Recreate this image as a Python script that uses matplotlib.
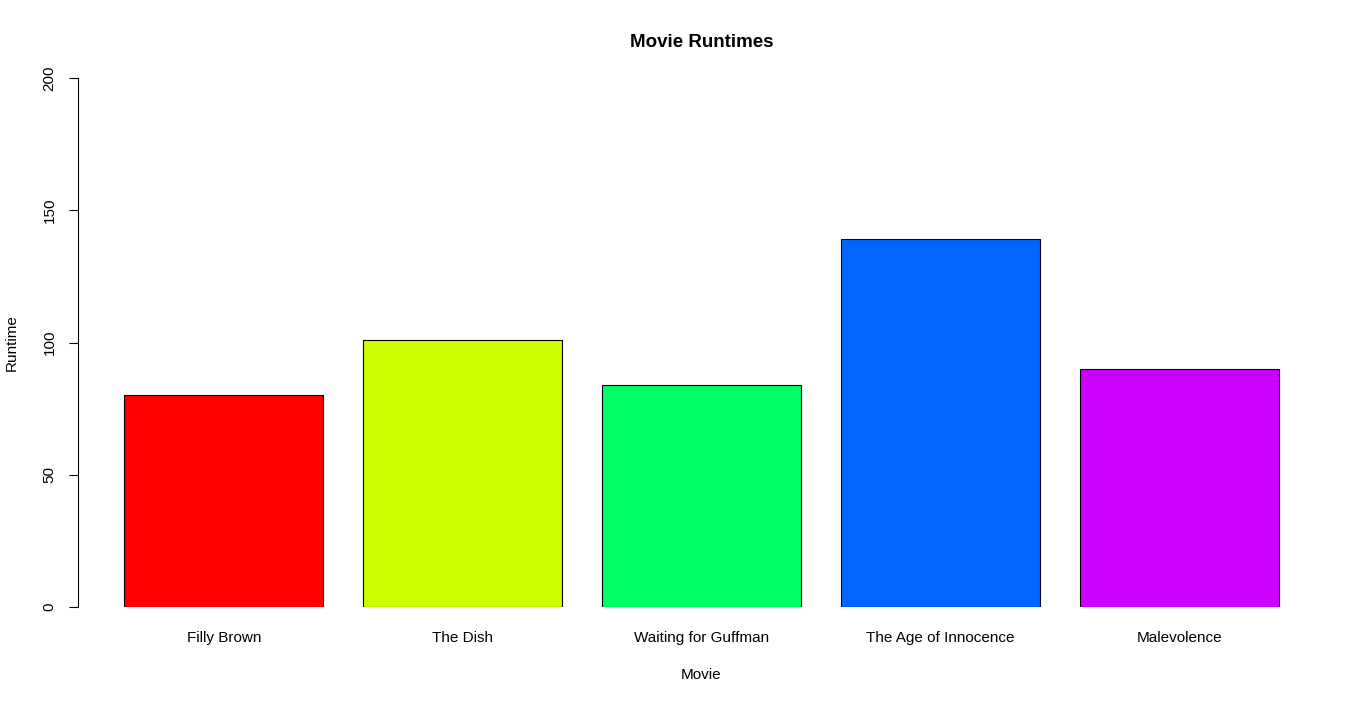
import matplotlib
matplotlib.use("Agg")
import matplotlib.pyplot as plt

# data
movies = ["Filly Brown", "The Dish", "Waiting for Guffman", "The Age of Innocence", "Malevolence"]
runtimes = [80, 101, 84, 139, 90]
colors = ["#FF0000", "#CCFF00", "#00FF66", "#0066FF", "#CC00FF"]
y_ticks = [0, 50, 100, 150, 200]

plt.rcParams["font.family"] = ["Liberation Sans", "DejaVu Sans"]

fig = plt.figure(figsize=(13.66, 7.05), dpi=100)
ax = fig.add_axes([78 / 1366, 98 / 705, (1325 - 78) / 1366, (607 - 78) / 705])

# R barplot layout: width 1, space 0.2
centers = [0.7 + 1.2 * i for i in range(len(movies))]
ax.bar(centers, runtimes, width=1.0, color=colors, edgecolor="black", linewidth=0.8)

ax.set_xlim(-0.032, 6.232)
ax.set_ylim(0, 200)

for side in ["top", "right", "bottom"]:
    ax.spines[side].set_visible(False)
ax.spines["left"].set_linewidth(0.8)

ax.set_yticks(y_ticks)
ax.set_yticklabels([str(t) for t in y_ticks], rotation=90, va="center")
ax.tick_params(axis="y", length=6.5, width=0.8, pad=9, labelsize=11)

ax.set_xticks(centers)
ax.set_xticklabels(movies)
ax.tick_params(axis="x", length=0, pad=17, labelsize=11)

ax.set_xlabel("Movie", fontsize=11, labelpad=17)
ax.set_ylabel("Runtime", fontsize=11, labelpad=17)
ax.set_title("Movie Runtimes", fontsize=13.5, fontweight="bold", pad=22)

fig.savefig("out.png", dpi=100)
